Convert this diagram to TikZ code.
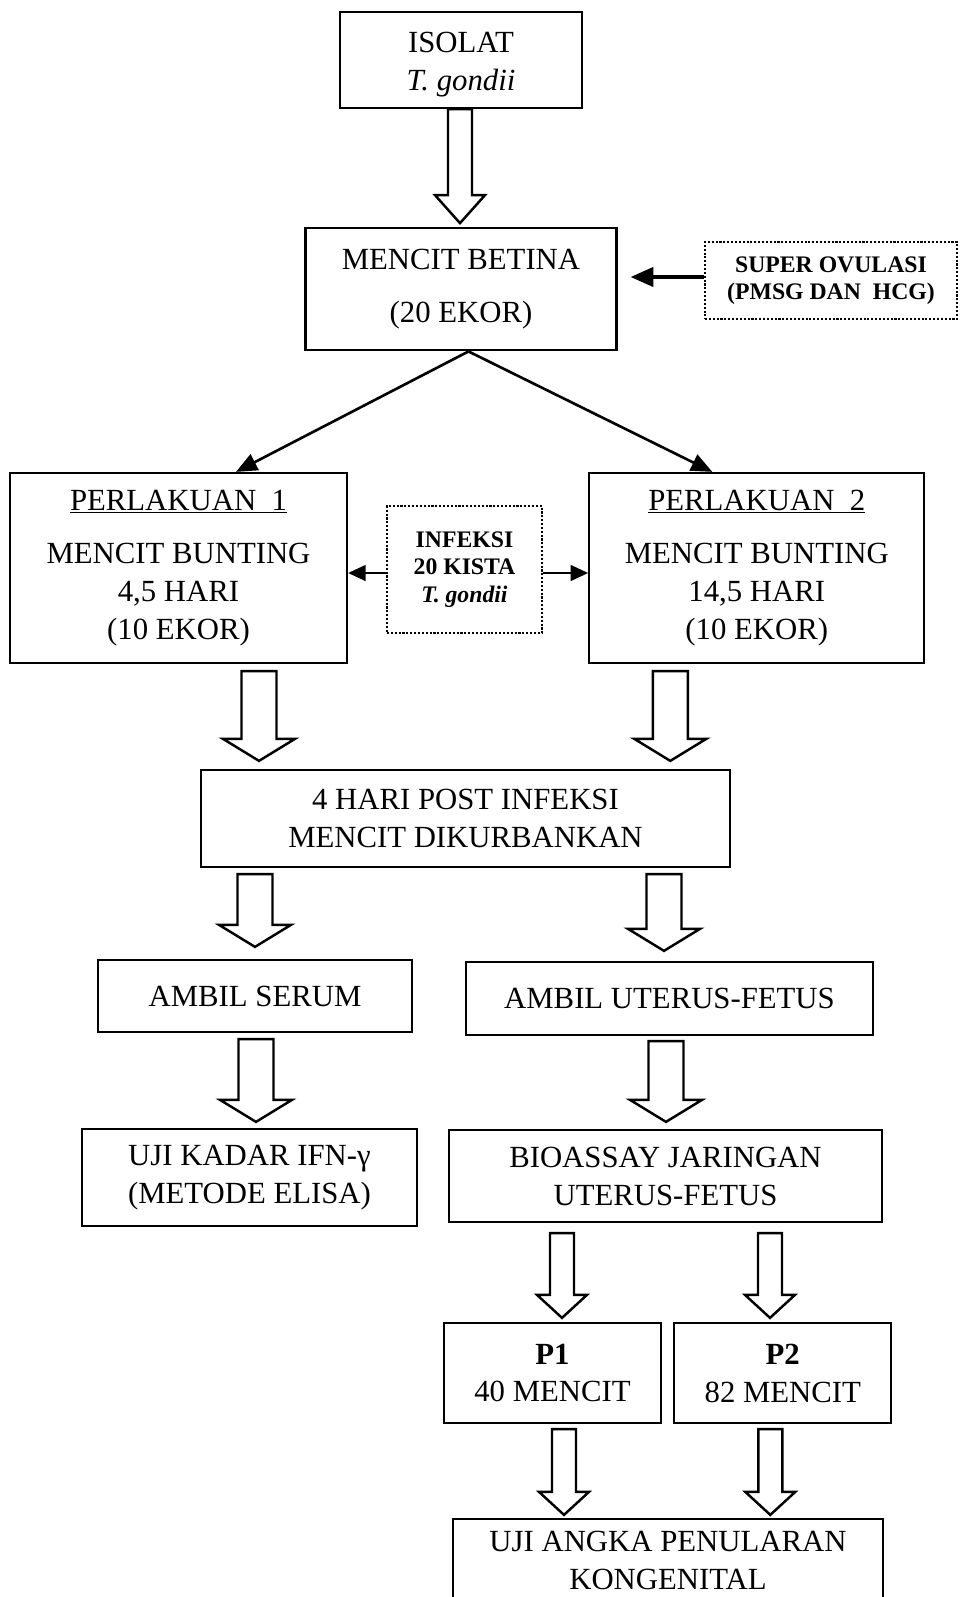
\documentclass[tikz,border=0pt]{standalone}
\usepackage{fontspec}
\setmainfont{Liberation Serif}
\usetikzlibrary{arrows.meta, positioning, calc}

\newcommand{\mainsize}{\fontsize{17.5}{21.6}\selectfont}
\newcommand{\notesize}{\fontsize{13.5}{15.5}\selectfont}

% hollow block arrow: start, end, shaft half width, head half width, head length
\newcommand{\hollowarrow}[5]{%
  \path #1 coordinate (ha-s) #2 coordinate (ha-e);
  \draw[hollow] let \p1=(ha-s), \p2=(ha-e) in
    (\x1-#3,\y1) -- (\x1-#3,\y2+#5) -- (\x1-#4,\y2+#5) -- (\x1,\y2)
    -- (\x1+#4,\y2+#5) -- (\x1+#3,\y2+#5) -- (\x1+#3,\y1) -- cycle;}

\begin{document}
\begin{tikzpicture}[
        box/.style={rectangle, draw=black, line width=1.3pt, align=center, inner sep=0pt, font=\mainsize},
        note/.style={rectangle, draw=black, densely dotted, line width=1.2pt, align=center, inner sep=0pt, font=\notesize\bfseries},
        line/.style={line width=1.5pt, -{Triangle[length=12pt,width=10pt]}},
        hollow/.style={draw=black, line width=1.4pt, fill=white, line join=miter}
    ]
    \useasboundingbox (0,0) rectangle (19.26,-31.94);
    \clip (0,0) rectangle (19.26,-31.94);

    % Top
    \node[box, minimum width=4.84cm, minimum height=1.92cm] (isolat) at (9.22,-1.20) {\rule{0pt}{17pt}ISOLAT\\\textit{T. gondii}};
    \node[box, minimum width=6.22cm, minimum height=2.44cm, below=2.36cm of isolat] (betina) {MENCIT BETINA\\[8.5pt](20 EKOR)};
    \node[note, minimum width=5.04cm, minimum height=1.54cm] (ovulasi) at (16.62,-5.61) {SUPER OVULASI\\(PMSG DAN\ \ HCG)};

    % Treatments
    \node[box, minimum width=6.74cm, minimum height=3.80cm] (perl1) at (3.57,-11.36)
        {\underline{PERLAKUAN\ \ 1}\\[9pt]MENCIT BUNTING\\4,5 HARI\\(10 EKOR)};
    \node[box, minimum width=6.70cm, minimum height=3.80cm, right=4.80cm of perl1] (perl2)
        {\underline{PERLAKUAN\ \ 2}\\[9pt]MENCIT BUNTING\\14,5 HARI\\(10 EKOR)};
    \node[note, minimum width=3.10cm, minimum height=2.54cm] (infeksi) at (9.29,-11.39)
        {INFEKSI\\20 KISTA\\\textit{T. gondii}};

    % Sampling
    \node[box, minimum width=10.58cm, minimum height=1.94cm] (hari) at (9.31,-16.37) {4 HARI POST INFEKSI\\MENCIT DIKURBANKAN};
    \node[box, minimum width=6.28cm, minimum height=1.44cm] (serum) at (5.10,-19.92) {AMBIL SERUM};
    \node[box, minimum width=8.14cm, minimum height=1.46cm] (uterus) at (13.39,-19.97) {AMBIL UTERUS-FETUS};
    \node[box, minimum width=6.70cm, minimum height=1.94cm] (kadar) at (4.99,-23.55) {UJI KADAR IFN-γ\\(METODE ELISA)};
    \node[box, minimum width=8.66cm, minimum height=1.84cm] (bioassay) at (13.31,-23.52) {BIOASSAY JARINGAN\\UTERUS-FETUS};

    % Bioassay groups
    \node[box, minimum width=4.34cm, minimum height=2.00cm] (p1) at (11.05,-27.46) {\textbf{P1}\\40 MENCIT};
    \node[box, minimum width=4.34cm, minimum height=2.00cm, right=0.22cm of p1] (p2) {\textbf{P2}\\82 MENCIT};
    \node[box, minimum width=8.60cm, minimum height=1.64cm] (angka) at (13.36,-31.20) {UJI ANGKA PENULARAN\\KONGENITAL};

    % Connections
    \draw[line, line width=2pt, -{Triangle[length=13pt,width=11pt]}, shorten >=0.26cm]
        ([yshift=0.07cm]ovulasi.west) -- ([yshift=0.07cm]ovulasi.west -| betina.east);
    \draw[line] ([xshift=0.15cm]betina.south) -- ([xshift=1.15cm]perl1.north);
    \draw[line] ([xshift=0.15cm]betina.south) -- ([xshift=-0.89cm]perl2.north);
    \draw[line, line width=1.2pt, -{Triangle[length=10pt,width=9pt]}]
        ([yshift=-0.07cm]infeksi.west) -- ([yshift=-0.07cm]infeksi.west -| perl1.east);
    \draw[line, line width=1.2pt, -{Triangle[length=10pt,width=9pt]}]
        ([yshift=-0.07cm]infeksi.east) -- ([yshift=-0.07cm]infeksi.east -| perl2.west);

    \hollowarrow{([xshift=-0.02cm]isolat.south)}{([yshift=0.08cm]betina.north)}{0.24cm}{0.50cm}{0.56cm}
    \hollowarrow{([xshift=1.61cm,yshift=-0.14cm]perl1.south)}{([yshift=0.16cm]hari.north)}{0.35cm}{0.72cm}{0.44cm}
    \hollowarrow{([xshift=-1.73cm,yshift=-0.14cm]perl2.south)}{([yshift=0.16cm]hari.north)}{0.35cm}{0.72cm}{0.44cm}
    \hollowarrow{([xshift=-4.21cm,yshift=-0.12cm]hari.south)}{([yshift=0.24cm]serum.north)}{0.35cm}{0.72cm}{0.44cm}
    \hollowarrow{([xshift=3.97cm,yshift=-0.12cm]hari.south)}{([yshift=0.20cm]uterus.north)}{0.35cm}{0.72cm}{0.44cm}
    \hollowarrow{([xshift=0.02cm,yshift=-0.12cm]serum.south)}{([yshift=0.12cm]kadar.north)}{0.35cm}{0.72cm}{0.44cm}
    \hollowarrow{([xshift=-0.07cm,yshift=-0.10cm]uterus.south)}{([yshift=0.14cm]bioassay.north)}{0.35cm}{0.72cm}{0.44cm}
    \hollowarrow{([xshift=-2.07cm,yshift=-0.20cm]bioassay.south)}{([yshift=0.08cm]p1.north)}{0.24cm}{0.50cm}{0.46cm}
    \hollowarrow{([xshift=2.09cm,yshift=-0.20cm]bioassay.south)}{([yshift=0.08cm]p2.north)}{0.24cm}{0.50cm}{0.46cm}
    \hollowarrow{([xshift=0.23cm,yshift=-0.10cm]p1.south)}{([yshift=0.06cm]angka.north)}{0.24cm}{0.50cm}{0.46cm}
    \hollowarrow{([xshift=-0.25cm,yshift=-0.10cm]p2.south)}{([yshift=0.06cm]angka.north)}{0.24cm}{0.50cm}{0.46cm}

\end{tikzpicture}
\end{document}
